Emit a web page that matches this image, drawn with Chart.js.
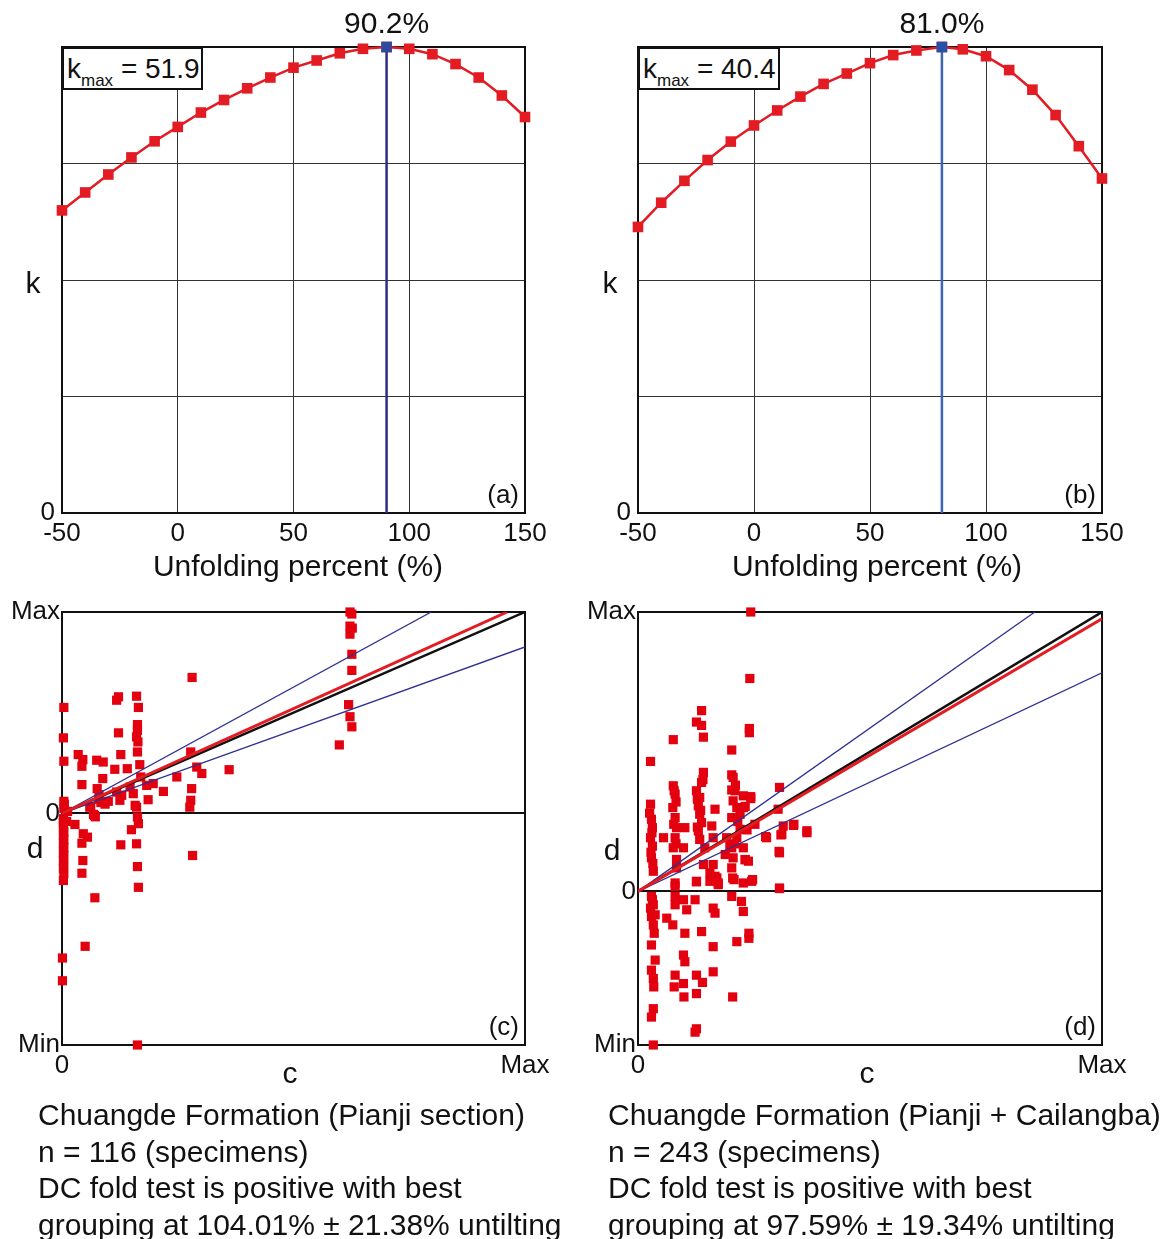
<!DOCTYPE html>
<html>
<head>
<meta charset="utf-8">
<script src="https://cdn.jsdelivr.net/npm/chart.js@4.4.1/dist/chart.umd.min.js"></script>
<style>
  body { margin: 0; background: #fff; font-family: "Liberation Sans", Arial, sans-serif; color: #111; }
  #wrap { position: relative; width: 1169px; height: 1239px; overflow: hidden; }
  canvas { position: absolute; }
  .t { position: absolute; font-size: 30px; line-height: 1; white-space: nowrap; transform: translate(-50%, -50%); }
  .kbox { position: absolute; border: 2px solid #111; box-sizing: border-box; background: #fff;
          font-size: 28px; line-height: 39px; padding-left: 3px; white-space: nowrap; }
  .kbox sub { font-size: 17px; vertical-align: -8px; line-height: 0; }
  .notes { position: absolute; font-size: 30px; line-height: 36.5px; white-space: nowrap; }
</style>
</head>
<body>
<div id="wrap">
  <canvas id="chartA" width="580" height="590" style="left:0;top:0"></canvas>
  <canvas id="chartB" width="589" height="590" style="left:580px;top:0"></canvas>
  <canvas id="chartC" width="580" height="520" style="left:0;top:590px"></canvas>
  <canvas id="chartD" width="589" height="520" style="left:580px;top:590px"></canvas>

  <div class="kbox" id="kboxA" style="left:62px;top:47px;width:141px;height:43px"></div>
  <div class="kbox" id="kboxB" style="left:638px;top:47px;width:142px;height:43px"></div>

  <div class="t" style="left:33px;top:283px">k</div>
  <div class="t" style="left:610px;top:283px">k</div>
  <div class="t" style="left:298px;top:566px">Unfolding percent (%)</div>
  <div class="t" style="left:877px;top:566px">Unfolding percent (%)</div>

  <div class="t" style="left:35px;top:848px">d</div>
  <div class="t" style="left:612px;top:850px">d</div>
  <div class="t" style="left:290px;top:1073px">c</div>
  <div class="t" style="left:867px;top:1073px">c</div>

  <div class="notes" style="left:38px;top:1097px">Chuangde Formation (Pianji section)<br>n = 116 (specimens)<br>DC fold test is positive with best<br>grouping at 104.01% ± 21.38% untilting</div>
  <div class="notes" style="left:608px;top:1097px">Chuangde Formation (Pianji + Cailangba)<br>n = 243 (specimens)<br>DC fold test is positive with best<br>grouping at 97.59% ± 19.34% untilting</div>
</div>

<script>
// (a) Pianji section: k versus unfolding percent
const unfoldA = [-50, -40, -30, -20, -10, 0, 10, 20, 30, 40, 50, 60, 70, 80, 100, 110, 120, 130, 140, 150];
const kA = [33.7, 35.7, 37.7, 39.6, 41.4, 43.0, 44.6, 46.0, 47.3, 48.5, 49.6, 50.4, 51.2, 51.7, 51.7, 51.1, 50.0, 48.5, 46.5, 44.1];
const peakA = 90.2;
const kmaxA = 51.9;

// (b) Pianji + Cailangba
const unfoldB = [-50, -40, -30, -20, -10, 0, 10, 20, 30, 40, 50, 60, 70, 90, 100, 110, 120, 130, 140, 150];
const kB = [24.8, 26.9, 28.8, 30.6, 32.2, 33.6, 34.9, 36.1, 37.2, 38.1, 39.0, 39.7, 40.1, 40.2, 39.6, 38.4, 36.7, 34.5, 31.8, 29.0];
const peakB = 81.0;
const kmaxB = 40.4;

const unfoldTicks = [-50, 0, 50, 100, 150];

// (c) DC test, Pianji: [c, d] pairs, scaled so Max = 1
const pointsC = [
  [0.622, 1.0], [0.626, 0.99], [0.622, 0.93], [0.627, 0.92], [0.622, 0.89], [0.626, 0.79], [0.626, 0.71],
  [0.619, 0.54], [0.622, 0.48], [0.626, 0.43], [0.599, 0.34],
  [0.281, 0.675], [0.278, 0.305], [0.291, 0.23], [0.302, 0.198], [0.280, 0.123], [0.278, 0.065], [0.276, 0.031],
  [0.282, -0.209], [0.361, 0.217], [0.248, 0.181], [0.219, 0.109], [0.197, 0.148], [0.183, 0.139], [0.186, 0.068], [0.170, 0.181],
  [0.161, 0.582], [0.165, 0.526], [0.163, 0.441], [0.163, 0.413], [0.161, 0.38], [0.164, 0.355], [0.163, 0.305],
  [0.168, 0.242], [0.158, 0.04], [0.161, 0.031], [0.163, -0.018], [0.165, -0.051], [0.150, -0.081], [0.161, -0.151],
  [0.163, -0.264], [0.165, -0.367], [0.163, -1.15], [0.154, 0.098], [0.147, 0.131],
  [0.122, 0.579], [0.118, 0.562], [0.122, 0.4], [0.127, 0.292], [0.114, 0.219], [0.141, 0.222], [0.118, 0.106],
  [0.129, 0.09], [0.125, 0.065], [0.127, -0.156],
  [0.075, 0.264], [0.089, 0.255], [0.088, 0.173], [0.076, 0.123], [0.08, 0.093], [0.084, 0.054], [0.093, 0.046],
  [0.060, 0.031], [0.068, -0.005], [0.070, -0.01], [0.071, -0.419], [0.100, 0.06], [0.080, 0.07],
  [0.035, 0.292], [0.045, 0.267], [0.043, 0.234], [0.043, 0.143], [0.028, -0.055], [0.046, -0.101], [0.055, -0.118],
  [0.043, -0.148], [0.045, -0.234], [0.043, -0.297], [0.050, -0.66], [0.062, 0.033], [0.072, -0.017],
  [0.004, 0.526], [0.003, 0.375], [0.004, 0.259], [0.004, 0.06], [0.004, 0.025], [0.005, 0.045], [0.003, -0.026],
  [0.003, -0.045], [0.003, -0.068], [0.004, -0.09], [0.003, -0.109], [0.004, -0.13], [0.003, -0.151], [0.004, -0.17],
  [0.003, -0.192], [0.004, -0.21], [0.003, -0.234], [0.004, -0.255], [0.003, -0.275], [0.004, -0.3], [0.003, -0.333],
  [0.001, -0.718], [0.001, -0.831], [0.010, -0.04], [0.012, 0.01]
];
const minC = -1.15;
const bestC = 104.01;
const errC = 21.38;

// (d) DC test, Pianji + Cailangba
const pointsD = [
  [0.243, 1.0], [0.241, 0.762], [0.240, 0.583], [0.240, 0.568], [0.202, 0.506], [0.137, 0.647], [0.126, 0.606],
  [0.137, 0.594], [0.141, 0.552], [0.076, 0.543], [0.027, 0.465],
  [0.141, 0.426], [0.137, 0.39], [0.126, 0.36], [0.133, 0.336], [0.130, 0.306], [0.133, 0.276], [0.137, 0.246],
  [0.130, 0.216], [0.133, 0.186], [0.144, 0.156], [0.140, 0.40], [0.128, 0.33], [0.135, 0.29], [0.128, 0.23],
  [0.076, 0.378], [0.080, 0.348], [0.075, 0.30], [0.080, 0.264], [0.083, 0.228], [0.080, 0.192], [0.076, 0.156],
  [0.083, 0.114], [0.078, 0.36], [0.082, 0.32], [0.077, 0.24], [0.082, 0.17],
  [0.027, 0.312], [0.029, 0.258], [0.031, 0.228], [0.027, 0.192], [0.031, 0.162], [0.029, 0.12], [0.033, 0.072],
  [0.025, 0.28], [0.030, 0.21], [0.028, 0.14], [0.032, 0.10],
  [0.055, 0.192], [0.101, 0.228], [0.098, 0.156], [0.166, 0.294],
  [0.205, 0.408], [0.209, 0.36], [0.205, 0.324], [0.213, 0.30], [0.202, 0.264], [0.220, 0.222], [0.213, 0.192],
  [0.202, 0.156], [0.205, 0.12], [0.202, 0.084], [0.207, 0.042], [0.210, 0.38], [0.215, 0.25], [0.208, 0.17],
  [0.227, 0.342], [0.243, 0.332], [0.227, 0.30], [0.220, 0.276], [0.159, 0.234], [0.162, 0.192], [0.191, 0.192],
  [0.198, 0.162], [0.188, 0.132], [0.252, 0.24], [0.277, 0.192], [0.305, 0.372], [0.302, 0.294], [0.313, 0.234],
  [0.335, 0.236], [0.310, 0.204], [0.364, 0.21], [0.305, 0.138], [0.227, 0.156], [0.231, 0.114], [0.238, 0.108],
  [0.141, 0.096], [0.162, 0.096], [0.155, 0.066], [0.170, 0.048], [0.173, 0.03], [0.126, 0.036], [0.080, 0.03],
  [0.227, 0.03], [0.245, 0.036], [0.305, 0.012], [0.083, 0.084],
  [0.243, 0.339], [0.231, 0.304], [0.235, 0.22], [0.231, 0.113], [0.247, 0.042], [0.202, 0.417], [0.202, 0.363],
  [0.029, -0.018], [0.033, -0.048], [0.029, -0.09], [0.033, -0.12], [0.037, -0.084], [0.029, -0.192], [0.037, -0.246],
  [0.029, -0.282], [0.033, -0.312], [0.034, -0.342], [0.033, -0.42], [0.029, -0.45], [0.033, -0.55], [0.027, -0.06],
  [0.035, -0.15], [0.031, -0.03],
  [0.080, 0.018], [0.080, -0.018], [0.080, -0.048], [0.098, -0.03], [0.062, -0.096], [0.075, -0.12], [0.105, -0.066],
  [0.123, -0.03], [0.126, 0.034], [0.101, -0.15], [0.098, -0.228], [0.101, -0.252], [0.080, -0.30], [0.078, -0.342],
  [0.098, -0.33], [0.099, -0.378], [0.126, -0.30], [0.139, -0.326], [0.126, -0.366], [0.126, -0.492], [0.123, -0.504],
  [0.137, -0.144], [0.162, -0.06], [0.166, -0.078], [0.162, -0.198], [0.162, -0.288], [0.155, 0.036], [0.173, 0.024],
  [0.166, 0.054], [0.204, 0.048], [0.202, -0.018], [0.223, -0.036], [0.227, -0.072], [0.239, -0.15], [0.239, -0.168],
  [0.213, -0.18], [0.204, -0.378], [0.305, 0.01],
  [0.336, 0.24], [0.364, 0.217], [0.308, 0.202], [0.304, 0.143], [0.275, 0.196]
];
const minD = -0.55;
const bestD = 97.59;
const errD = 19.34;

const FONT = '"Liberation Sans", Arial, sans-serif';
const RED = "#e31b23";
const PT_RED = "#e3000f";
const NAVY = "#2e3192";

// frame round the plot area plus the small labels inside it
function frame(tag, peak) {
  return {
    id: "frame",
    beforeDatasetsDraw(chart) {
      const { ctx, chartArea: a } = chart;
      ctx.save();
      ctx.strokeStyle = "#111";
      ctx.lineWidth = 2;
      ctx.strokeRect(a.left, a.top, a.right - a.left, a.bottom - a.top);
      ctx.restore();
    },
    afterDraw(chart) {
      const { ctx, chartArea: a } = chart;
      ctx.save();
      ctx.fillStyle = "#111";
      ctx.font = "26px " + FONT;
      ctx.textAlign = "right";
      ctx.textBaseline = "bottom";
      ctx.fillText(tag, a.right - 6, a.bottom - 4);
      if (peak != null) {
        ctx.font = "30px " + FONT;
        ctx.textAlign = "center";
        ctx.textBaseline = "middle";
        ctx.fillText(peak.toFixed(1) + "%", chart.scales.x.getPixelForValue(peak), a.top - 22);
      }
      ctx.restore();
    }
  };
}

function kChart(id, xs, ks, peak, kmax, lineColor, markColor, tag, area) {
  const curve = xs.map((x, i) => ({ x, y: ks[i] }));
  curve.push({ x: peak, y: kmax });
  curve.sort((p, q) => p.x - q.x);

  new Chart(document.getElementById(id), {
    type: "scatter",
    data: {
      datasets: [
        {
          data: [{ x: peak, y: kmax }],
          pointStyle: "rect", pointRadius: 7.5, backgroundColor: markColor, borderWidth: 0,
          order: 0, clip: false
        },
        {
          data: [{ x: peak, y: 0 }, { x: peak, y: kmax }],
          showLine: true, borderColor: lineColor, borderWidth: 2.5, pointRadius: 0,
          order: 1, clip: false
        },
        {
          data: curve,
          showLine: true, borderColor: RED, borderWidth: 2.5,
          pointStyle: "rect", pointRadius: 7.5, backgroundColor: RED, pointBorderWidth: 0,
          order: 2, clip: false
        }
      ]
    },
    options: {
      responsive: false,
      animation: false,
      layout: { padding: { top: area.top, right: area.w - area.right, left: 0, bottom: 0 } },
      plugins: { legend: { display: false }, tooltip: { enabled: false } },
      scales: {
        x: {
          min: -50, max: 150,
          afterBuildTicks: s => { s.ticks = unfoldTicks.map(v => ({ value: v })); },
          afterFit: s => { s.height = area.h - area.bottom; },
          grid: { color: "#333", lineWidth: 1, drawTicks: false },
          border: { display: false },
          ticks: { color: "#111", font: { size: 26, family: FONT }, padding: 5, maxRotation: 0 }
        },
        y: {
          min: 0, max: kmax,
          afterBuildTicks: s => { s.ticks = [0, 0.25, 0.5, 0.75, 1].map(f => ({ value: f * kmax })); },
          afterFit: s => { s.width = area.left; },
          grid: { color: "#333", lineWidth: 1, drawTicks: false },
          border: { display: false },
          ticks: { color: "#111", font: { size: 26, family: FONT }, padding: 7,
                   callback: v => (v === 0 ? "0" : "") }
        }
      }
    },
    plugins: [frame(tag, peak)]
  });
}

// line through the origin with slope s, clipped to the unit box
function ray(s) {
  return s >= 1 ? [{ x: 0, y: 0 }, { x: 1 / s, y: 1 }] : [{ x: 0, y: 0 }, { x: 1, y: s }];
}

function dcChart(id, pts, yMin, best, err, tag, area) {
  const lineDs = (s, color, w, order) => ({
    data: ray(s), showLine: true, borderColor: color, borderWidth: w, pointRadius: 0, order
  });

  new Chart(document.getElementById(id), {
    type: "scatter",
    data: {
      datasets: [
        lineDs(best / 100, RED, 3, 0),
        lineDs(1, "#111", 2.5, 1),
        lineDs((best + err) / 100, NAVY, 1.3, 2),
        lineDs((best - err) / 100, NAVY, 1.3, 2),
        {
          data: pts.map(p => ({ x: p[0], y: p[1] })),
          pointStyle: "rect", pointRadius: 6.5, backgroundColor: PT_RED, borderWidth: 0,
          order: 5, clip: false
        }
      ]
    },
    options: {
      responsive: false,
      animation: false,
      layout: { padding: { top: area.top, right: area.w - area.right, left: 0, bottom: 0 } },
      plugins: { legend: { display: false }, tooltip: { enabled: false } },
      scales: {
        x: {
          min: 0, max: 1,
          afterBuildTicks: s => { s.ticks = [{ value: 0 }, { value: 1 }]; },
          afterFit: s => { s.height = area.h - area.bottom; },
          grid: { display: false, drawTicks: false },
          border: { display: false },
          ticks: { color: "#111", font: { size: 26, family: FONT }, padding: 5, maxRotation: 0,
                   callback: v => (v === 0 ? "0" : "Max") }
        },
        y: {
          min: yMin, max: 1,
          afterBuildTicks: s => { s.ticks = [{ value: yMin }, { value: 0 }, { value: 1 }]; },
          afterFit: s => { s.width = area.left; },
          grid: { drawTicks: false, lineWidth: 2,
                  color: c => (c.tick && c.tick.value === 0 ? "#111" : "rgba(0,0,0,0)") },
          border: { display: false },
          ticks: { color: "#111", font: { size: 26, family: FONT }, padding: 2,
                   callback: v => (v === 0 ? "0" : v === 1 ? "Max" : "Min") }
        }
      }
    },
    plugins: [frame(tag, null)]
  });
}

kChart("chartA", unfoldA, kA, peakA, kmaxA, "#2b2f86", "#2e4a9e", "(a)",
       { left: 62, right: 525, top: 47, bottom: 513, w: 580, h: 590 });
kChart("chartB", unfoldB, kB, peakB, kmaxB, "#3d63b3", "#2750a8", "(b)",
       { left: 58, right: 522, top: 47, bottom: 513, w: 589, h: 590 });
dcChart("chartC", pointsC, minC, bestC, errC, "(c)",
        { left: 62, right: 525, top: 22, bottom: 455, w: 580, h: 520 });
dcChart("chartD", pointsD, minD, bestD, errD, "(d)",
        { left: 58, right: 522, top: 22, bottom: 455, w: 589, h: 520 });

document.getElementById("kboxA").innerHTML = "k<sub>max</sub> = " + kmaxA.toFixed(1);
document.getElementById("kboxB").innerHTML = "k<sub>max</sub> = " + kmaxB.toFixed(1);
</script>
</body>
</html>
